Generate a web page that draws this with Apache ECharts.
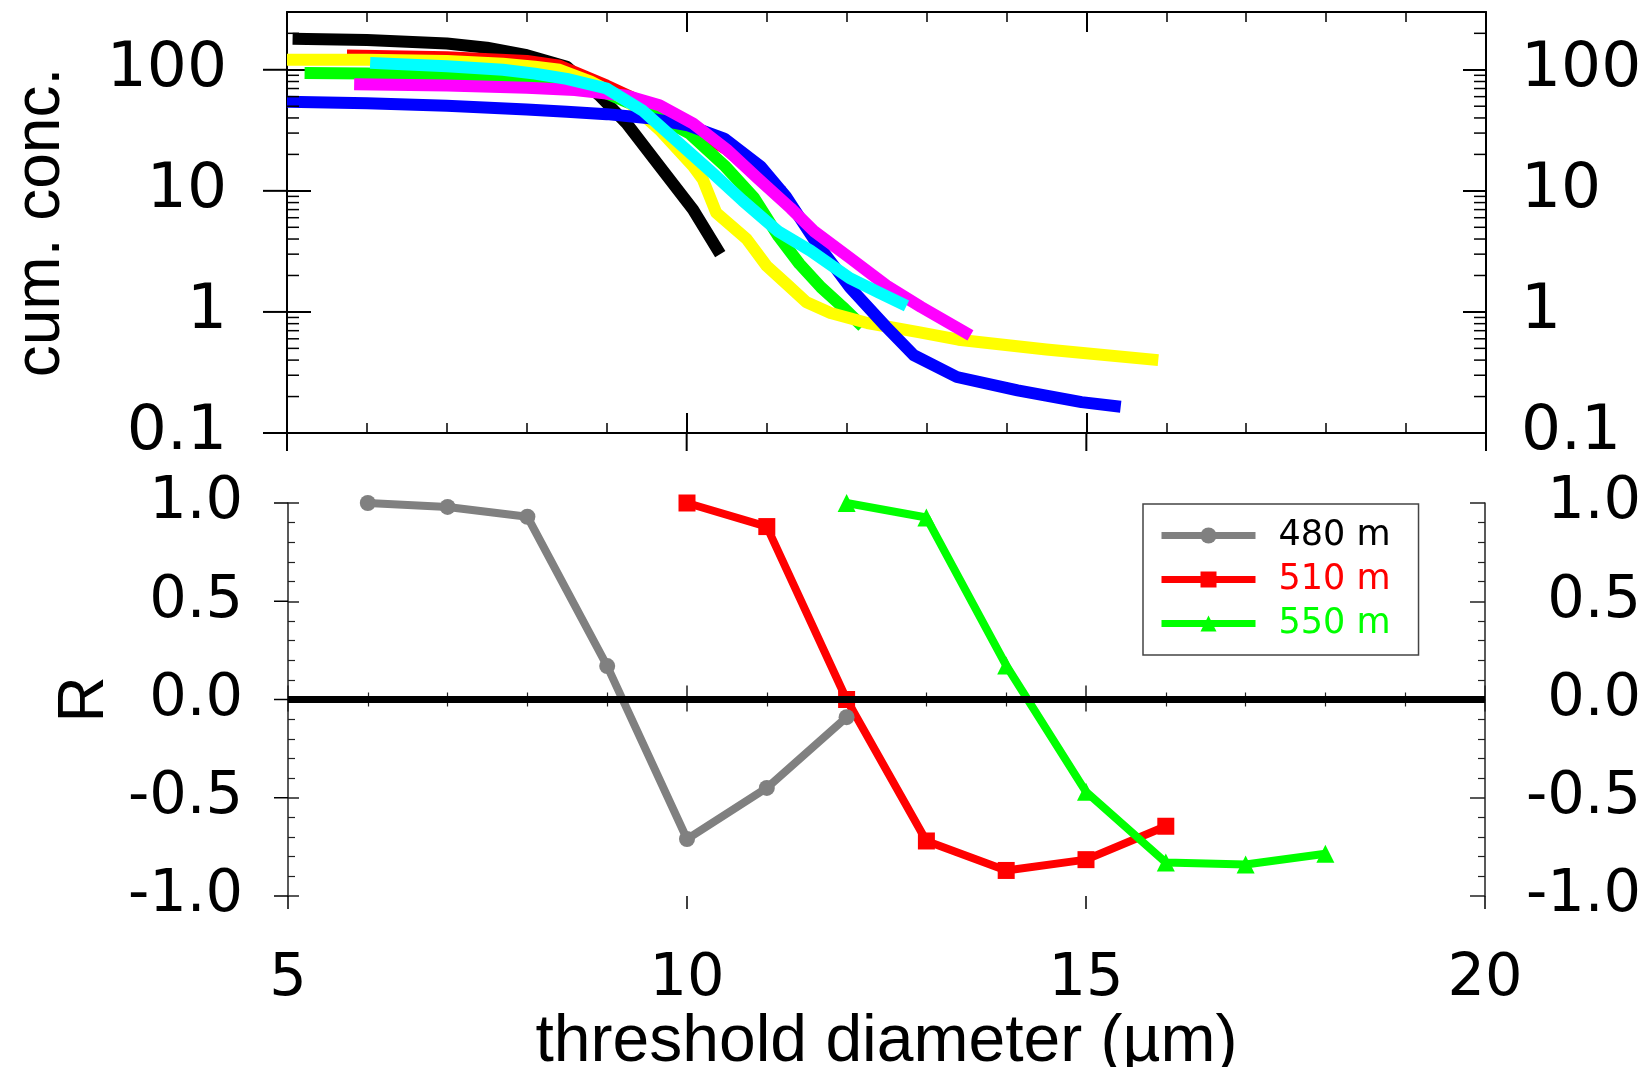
<!DOCTYPE html>
<html>
<head>
<meta charset="utf-8">
<script src="https://cdn.jsdelivr.net/npm/echarts@6/dist/echarts.min.js"></script>
<style>
  html, body { margin: 0; padding: 0; background: #fff; }
  #chart { width: 1647px; height: 1067px; }
</style>
</head>
<body>
<div id="chart"></div>
<script>
// ---------- data: top panel (threshold diameter [um], cumulative concentration) ----------
const blackCurve   = [[5.07,180],[6,176],[7,165],[7.5,152],[8,132],[8.5,106],[8.9,62],[9.25,36],[9.66,16],[10.08,7],[10.42,3.0]];
const redCurve     = [[5.75,131],[7,127],[8,118],[8.41,108],[9,74],[9.5,52],[10,35],[10.5,22],[10.9,13],[11.2,9.8]];
const greenCurve   = [[5.22,94],[6,93],[7,90],[7.7,86],[8.3,78],[8.9,68],[9.5,46],[10.03,30],[10.48,16],[10.84,8.8],[11.15,4.2],[11.41,2.5],[11.68,1.6],[11.95,1.1],[12.2,0.76]];
const yellowCurve  = [[5,121],[6,121],[7,118],[7.7,112],[8.1,106],[8.41,100],[8.8,80],[9.25,56],[9.66,32],[10.08,16],[10.2,12.5],[10.37,6.6],[10.75,4.0],[11.0,2.4],[11.25,1.7],[11.5,1.2],[11.8,0.98],[12.26,0.81],[12.9,0.68],[13.4,0.59],[14.5,0.49],[15.9,0.40]];
const blueCurve    = [[5,54.5],[6,53],[7,50.5],[8,47],[8.5,45],[9,43],[9.5,40],[10.0,35],[10.47,27],[10.93,15.8],[11.24,9],[11.59,4.0],[12.04,1.6],[12.49,0.76],[12.84,0.44],[13.38,0.29],[14.14,0.225],[14.94,0.18],[15.43,0.165]];
const magentaCurve = [[5.84,76],[7,74],[8,71],[8.6,68],[9.25,61],[9.66,51],[10.08,36],[10.5,22],[10.9,12.5],[11.3,7.2],[11.6,4.6],[12.04,2.8],[12.5,1.65],[12.93,1.1],[13.55,0.64]];
const cyanCurve    = [[6.04,114],[7,107],[7.7,100],[8.1,93],[8.5,84],[9.0,70],[9.45,46],[9.87,26],[10.3,14.5],[10.7,8.3],[11.15,4.6],[11.55,3.2],[12.04,1.9],[12.4,1.45],[12.75,1.12]];

// ---------- data: bottom panel (correlation R) ----------
const names = ['480 m', '510 m', '550 m'];
const x480 = [6, 7, 8, 9, 10, 11, 12];
const r480 = [1.0, 0.98, 0.93, 0.17, -0.71, -0.45, -0.09];
const x510 = [10, 11, 12, 13, 14, 15, 16];
const r510 = [1.0, 0.88, 0.0, -0.72, -0.87, -0.815, -0.645];
const x550 = [12, 13, 14, 15, 16, 17, 18];
const r550 = [1.0, 0.926, 0.173, -0.47, -0.83, -0.84, -0.785];

// ---------- tick values ----------
const xMajorTicks = [5, 10, 15, 20];
const logMajorTicks = [0.1, 1, 10, 100];
const logMinorTicks = [0.2,0.3,0.4,0.5,0.6,0.7,0.8,0.9, 2,3,4,5,6,7,8,9, 20,30,40,50,60,70,80,90, 200];
const rMajorTicks = [-1, -0.5, 0, 0.5, 1];

const X_MIN = 5, X_MAX = 20;
const NUM_FONT = 'DejaVu Sans';
const TXT_FONT = 'Liberation Sans';

function zip(xs, ys) { return xs.map((x, i) => [x, ys[i]]); }

function curve(name, color, data) {
  return {
    name: name, type: 'line', xAxisIndex: 0, yAxisIndex: 0,
    data: data, showSymbol: false, smooth: false, silent: true,
    lineStyle: { color: color, width: 12, cap: 'butt', join: 'round' },
    itemStyle: { color: color }
  };
}

function tickSeries(xi, yi, data, render) {
  return {
    type: 'custom', xAxisIndex: xi, yAxisIndex: yi, silent: true, clip: false, z: 10,
    data: data, encode: { x: 0, y: 1 }, renderItem: render
  };
}
function seg(x1, y1, x2, y2, w) {
  return { type: 'line', shape: { x1: x1, y1: y1, x2: x2, y2: y2 }, style: { stroke: '#000', lineWidth: w } };
}

const chart = echarts.init(document.getElementById('chart'));

const baseX = {
  type: 'value', min: X_MIN, max: X_MAX, interval: 5,
  splitLine: { show: false }, minorSplitLine: { show: false }
};

const option = {
  backgroundColor: '#ffffff',
  animation: false,
  grid: [
    { left: 287, right: 161, top: 12, bottom: 634, containLabel: false, outerBoundsMode: 'none' },
    { left: 288, right: 162, top: 503, bottom: 171, containLabel: false, outerBoundsMode: 'none' }
  ],
  xAxis: [
    Object.assign({}, baseX, { gridIndex: 0, position: 'bottom',
      axisLine: { lineStyle: { color: '#000', width: 2 } },
      axisTick: { inside: true, length: 20, lineStyle: { color: '#000', width: 2 } },
      minorTick: { show: true, splitNumber: 5, length: 10, lineStyle: { color: '#000', width: 1.5 } },
      axisLabel: { show: false } }),
    Object.assign({}, baseX, { gridIndex: 0, position: 'top',
      axisLine: { lineStyle: { color: '#000', width: 2 } },
      axisTick: { inside: true, length: 20, lineStyle: { color: '#000', width: 2 } },
      minorTick: { show: true, splitNumber: 5, length: 10, lineStyle: { color: '#000', width: 1.5 } },
      axisLabel: { show: false } }),
    Object.assign({}, baseX, { gridIndex: 1, position: 'bottom',
      axisLine: { lineStyle: { color: '#222', width: 1.5 } },
      axisTick: { inside: true, length: 14, lineStyle: { color: '#222', width: 1.5 } },
      minorTick: { show: true, splitNumber: 5, length: 7, lineStyle: { color: '#222', width: 1.2 } },
      axisLabel: { show: true, fontFamily: NUM_FONT, fontSize: 59, color: '#000', margin: 54 },
      name: 'threshold diameter (µm)', nameLocation: 'middle', nameGap: 101,
      nameTextStyle: { fontFamily: TXT_FONT, fontSize: 66, color: '#000' } }),
    Object.assign({}, baseX, { gridIndex: 1, position: 'top',
      axisLine: { lineStyle: { color: '#222', width: 1.5 } },
      axisTick: { inside: true, length: 12, lineStyle: { color: '#222', width: 1.5 } },
      minorTick: { show: true, splitNumber: 5, length: 7, lineStyle: { color: '#222', width: 1.2 } },
      axisLabel: { show: false } })
  ],
  yAxis: [
    { gridIndex: 0, type: 'log', logBase: 10, min: 0.1, max: 300, position: 'left',
      splitLine: { show: false },
      axisLine: { lineStyle: { color: '#000', width: 2 } },
      axisTick: { inside: true, length: 24, lineStyle: { color: '#000', width: 2 } },
      axisLabel: { fontFamily: NUM_FONT, fontSize: 63, color: '#000', margin: 60, showMaxLabel: false,
        formatter: v => (v > 150 ? '' : String(+(+v).toPrecision(3))) },
      name: 'cum. conc.', nameLocation: 'middle', nameGap: 214, nameRotate: 90,
      nameTextStyle: { fontFamily: TXT_FONT, fontSize: 64, color: '#000' } },
    { gridIndex: 0, type: 'log', logBase: 10, min: 0.1, max: 300, position: 'right',
      splitLine: { show: false },
      axisLine: { lineStyle: { color: '#000', width: 2 } },
      axisTick: { inside: true, length: 23, lineStyle: { color: '#000', width: 2 } },
      axisLabel: { fontFamily: NUM_FONT, fontSize: 63, color: '#000', margin: 35, showMaxLabel: false,
        formatter: v => (v > 150 ? '' : String(+(+v).toPrecision(3))) } },
    { gridIndex: 1, type: 'value', min: -1, max: 1, interval: 0.5, position: 'left',
      splitLine: { show: false }, minorSplitLine: { show: false },
      axisLine: { lineStyle: { color: '#222', width: 1.5 } },
      axisTick: { inside: true, length: 11, lineStyle: { color: '#222', width: 1.5 } },
      minorTick: { show: true, splitNumber: 5, length: 7, lineStyle: { color: '#222', width: 1.2 } },
      axisLabel: { fontFamily: NUM_FONT, fontSize: 59, color: '#000', margin: 45, formatter: v => v.toFixed(1) },
      name: 'R', nameLocation: 'middle', nameGap: 156, nameRotate: 90,
      nameTextStyle: { fontFamily: TXT_FONT, fontSize: 64, color: '#000' } },
    { gridIndex: 1, type: 'value', min: -1, max: 1, interval: 0.5, position: 'right',
      splitLine: { show: false }, minorSplitLine: { show: false },
      axisLine: { lineStyle: { color: '#222', width: 1.5 } },
      axisTick: { inside: true, length: 15, lineStyle: { color: '#222', width: 1.5 } },
      minorTick: { show: true, splitNumber: 5, length: 7, lineStyle: { color: '#222', width: 1.2 } },
      axisLabel: { fontFamily: NUM_FONT, fontSize: 59, color: '#000', margin: 156, align: 'right', formatter: v => v.toFixed(1) } }
  ],
  legend: {
    show: true, selectedMode: false, orient: 'vertical',
    left: 1143, top: 504, padding: [13, 28, 13, 15],
    borderColor: '#444', borderWidth: 1.5, backgroundColor: '#fff',
    itemWidth: 94, itemHeight: 20, itemGap: 7,
    lineStyle: { width: 7 },
    textStyle: { fontFamily: NUM_FONT, fontSize: 35, lineHeight: 37 },
    formatter: n => '{a|' + n + '}',
    data: [
      { name: names[0], textStyle: { color: '#000000', rich: { a: { padding: [0, 0, 0, 18], fontFamily: NUM_FONT, fontSize: 35, color: '#000000' } } } },
      { name: names[1], textStyle: { color: '#ff0000', rich: { a: { padding: [0, 0, 0, 18], fontFamily: NUM_FONT, fontSize: 35, color: '#ff0000' } } } },
      { name: names[2], textStyle: { color: '#00ff00', rich: { a: { padding: [0, 0, 0, 18], fontFamily: NUM_FONT, fontSize: 35, color: '#00ff00' } } } }
    ]
  },
  series: [
    curve('black', '#000000', blackCurve),
    curve('red', '#ff0000', redCurve),
    curve('green', '#00ff00', greenCurve),
    curve('yellow', '#ffff00', yellowCurve),
    curve('blue', '#0000ff', blueCurve),
    curve('magenta', '#ff00ff', magentaCurve),
    curve('cyan', '#00ffff', cyanCurve),

    {
      name: names[0], type: 'line', xAxisIndex: 2, yAxisIndex: 2, data: zip(x480, r480),
      symbol: 'circle', symbolSize: 16, showSymbol: true,
      lineStyle: { color: '#808080', width: 8 }, itemStyle: { color: '#808080' },
      markLine: { silent: true, symbol: ['none', 'none'], label: { show: false },
        lineStyle: { color: '#000', width: 7, type: 'solid' }, data: [{ yAxis: 0 }] }
    },
    {
      name: names[1], type: 'line', xAxisIndex: 2, yAxisIndex: 2, data: zip(x510, r510),
      symbol: 'rect', symbolSize: 17, showSymbol: true,
      lineStyle: { color: '#ff0000', width: 8 }, itemStyle: { color: '#ff0000' }
    },
    {
      name: names[2], type: 'line', xAxisIndex: 2, yAxisIndex: 2, data: zip(x550, r550),
      symbol: 'triangle', symbolSize: 18, showSymbol: true,
      lineStyle: { color: '#00ff00', width: 8 }, itemStyle: { color: '#00ff00' }
    },

    // log minor ticks (top panel, both sides, inward)
    tickSeries(0, 0, logMinorTicks.map(v => [X_MIN, v]), (p, api) => {
      const v = api.value(1);
      const a = api.coord([X_MIN, v]), b = api.coord([X_MAX, v]);
      return { type: 'group', children: [seg(a[0], a[1], a[0] + 12, a[1], 1.5), seg(b[0] - 12, b[1], b[0], b[1], 1.5)] };
    }),
    // outward parts of the major y ticks (top panel, left)
    tickSeries(0, 0, logMajorTicks.map(v => [X_MIN, v]), (p, api) => {
      const a = api.coord([X_MIN, api.value(1)]);
      return seg(a[0] - 24, a[1], a[0], a[1], 2);
    }),
    // outward parts of the major x ticks (top panel, bottom)
    tickSeries(0, 0, xMajorTicks.map(x => [x, 0.1]), (p, api) => {
      const a = api.coord([api.value(0), 0.1]);
      return seg(a[0], a[1], a[0], a[1] + 18, 2);
    }),
    // outward parts of the major y ticks (bottom panel, left)
    tickSeries(2, 2, rMajorTicks.map(v => [X_MIN, v]), (p, api) => {
      const a = api.coord([X_MIN, api.value(1)]);
      return seg(a[0] - 14, a[1], a[0], a[1], 1.5);
    }),
    // outward parts of the major x ticks (bottom panel, bottom)
    tickSeries(2, 2, xMajorTicks.map(x => [x, -1]), (p, api) => {
      const a = api.coord([api.value(0), -1]);
      return seg(a[0], a[1], a[0], a[1] + 13, 1.5);
    })
  ]
};

chart.setOption(option);
</script>
</body>
</html>
